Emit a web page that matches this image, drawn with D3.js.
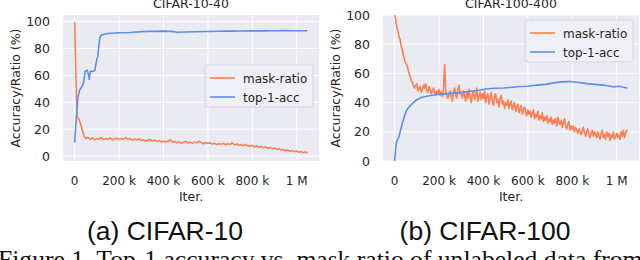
<!DOCTYPE html>
<html>
<head>
<meta charset="utf-8">
<script src="https://cdn.jsdelivr.net/npm/d3@7"></script>
<style>
  html,body{margin:0;padding:0;background:#fff;}
  svg{display:block;}
</style>
</head>
<body>
<svg id="fig" width="640" height="260"></svg>
<script>
// ---- data (iterations in k) ----
const last_iter_k=1048;

// CIFAR-10-40 (mask ratio logged every 10k)
const c10_mask_step=10;
const c10_mask_ratio=[100,30,27,22,16,13,14,12.5,13.5,12,13,12.5,13.8,12.2,13,12.4,13.5,12,12.8,13.2,
  12.2,13,12.5,14,12.3,13,11.8,12.6,12,12.8,11.5,12.2,11,11.8,12.4,11.2,11.8,10.8,11.5,10.5,
  11.2,10.4,11,12,10.5,10.8,9.8,10.6,9.5,10.2,11,9.6,10.3,9.4,10.5,9.8,11,10,9.2,10.1,
  9.3,9.8,8.9,9.5,8.6,9.2,8.8,9.4,8.5,9.1,8.6,9.8,8.4,8.9,8,8.5,7.8,8.7,7.6,7.2,
  7.9,6.8,7.4,6.5,7,6.2,6.8,5.8,6.4,5.5,6,4.9,5.4,4.4,5,3.9,4.5,3.6,4.1,3.2,
  3.8,2.9,3.4,2.5,3,2.2];
const c10_acc_iter=[0,5,10,15,22,30,40,47,55,62,66,70,74,80,90,100,104,108,113,120,135,150,200,250,300,350,400,450,460,500,550,600,650,700,750,800,850,900,950,1000,1048];
const c10_acc=[10,22,33,44,49,51,54,63,64,61,57,63,63,63,63.5,72,74,80,88,90,90.6,91.2,91.8,92,92.6,92.8,93,92.6,92.2,92.3,92.5,92.7,92.9,93,93.1,93.2,93.2,93.3,93.4,93.3,93.3];

// CIFAR-100-400 (mask ratio logged every 5k)
const c100_mask_step=5;
const c100_mask_ratio=[100,97,91,89,85,83,78,76,72,69,67,66,63,60,58,55,54,51,50,52,53,
  48,50,51,47,49,52,50,53,48,47,51,49,46,48,50,47,45,48,46,49,
  45,47,44,50,66,48,45,43,46,48,44,41,47,50,45,43,49,52,46,46,
  43,48,45,41,47,43,49,44,40,46,48,42,45,50,41,44,47,42,46,43,
  48,40,44,46,39,43,47,41,38,44,46,40,42,37,43,45,39,41,36,40,
  38,42,36,39,41,35,38,40,34,37,39,33,36,38,32,35,37,33,31,35,
  32,34,30,33,35,29,32,30,34,28,31,29,33,27,30,28,31,26,29,27,
  30,25,28,26,29,24,30,27,25,28,23,26,29,24,22,25,27,21,24,22,
  24,20,23,21,19,22,20,18,21,23,19,17,20,22,18,16,19,21,17,20,
  18,16,20,17,15,19,21,16,18,15,20,17,19,14,18,16,20,15,17,19,
  16,18,15,20,17,21,16,19,21,20];
const c100_acc_iter=[0,5,10,18,25,35,45,55,70,85,100,120,150,190,230,265,300,340,380,415,450,490,530,565,600,640,680,715,750,790,830,865,900,940,985,1010,1030,1048];
const c100_acc=[0,9,14,16,20,26,31,35,38,40,42,43.5,44.5,45.5,46,46.5,47,47.8,48.5,49.5,49.8,50,50.5,51,51.2,52,52.5,53.5,54.2,54.5,53.8,53,52.5,52,50.8,51.2,50.5,50];

const y_ticks=[0,20,40,60,80,100];
const x_ticks=[0,200,400,600,800,1000];
const x_tick_labels=["0","200 k","400 k","600 k","800 k","1 M"];
const legend_labels=["mask-ratio","top-1-acc"];
const series_colors=["#ff7f50","#5b8ef0"];

function dense_iters(values,step){
    return values.map((v,i)=>Math.min(i*step,last_iter_k));
}

const svg=d3.select("#fig");
const font="DejaVu Sans, sans-serif";

function draw_panel(opt){
    const g=svg.append("g");
    const x=d3.scaleLinear()
        .domain([-0.05*last_iter_k,1.05*last_iter_k])
        .range([opt.left,opt.left+256]);
    const y=d3.scaleLinear()
        .domain(opt.y_domain)
        .range([161,15]);

    // background
    g.append("rect")
        .attr("x",opt.left)
        .attr("y",15)
        .attr("width",256)
        .attr("height",146)
        .attr("fill","#eaeaf2");

    // grid + tick labels
    for(const t of y_ticks){
        g.append("line")
            .attr("x1",opt.left).attr("x2",opt.left+256)
            .attr("y1",y(t)).attr("y2",y(t))
            .attr("stroke","#fff").attr("stroke-width",1);
        g.append("text")
            .attr("x",opt.left-13)
            .attr("y",y(t)+4.5)
            .attr("text-anchor","end")
            .attr("font-family",font)
            .attr("font-size",12.5)
            .attr("fill","#262626")
            .text(t);
    }
    x_ticks.forEach((t,i)=>{
        g.append("line")
            .attr("x1",x(t)).attr("x2",x(t))
            .attr("y1",15).attr("y2",161)
            .attr("stroke","#fff").attr("stroke-width",1);
        g.append("text")
            .attr("x",x(t))
            .attr("y",185)
            .attr("text-anchor","middle")
            .attr("font-family",font)
            .attr("font-size",12)
            .attr("fill","#262626")
            .text(x_tick_labels[i]);
    });

    // lines
    const clip_id="clip_"+opt.left;
    svg.append("clipPath").attr("id",clip_id)
        .append("rect").attr("x",opt.left).attr("y",15).attr("width",256).attr("height",146);
    const line=d3.line().x(d=>x(d[0])).y(d=>y(d[1]));
    const mask_pts=dense_iters(opt.mask,opt.mask_step).map((k,i)=>[k,opt.mask[i]]);
    const acc_pts=opt.acc_iter.map((k,i)=>[k,opt.acc[i]]);
    g.append("path")
        .attr("d",line(mask_pts))
        .attr("clip-path","url(#"+clip_id+")")
        .attr("fill","none")
        .attr("stroke",series_colors[0])
        .attr("stroke-width",1.6)
        .attr("stroke-linejoin","round");
    g.append("path")
        .attr("d",line(acc_pts))
        .attr("clip-path","url(#"+clip_id+")")
        .attr("fill","none")
        .attr("stroke",series_colors[1])
        .attr("stroke-width",1.6)
        .attr("stroke-linejoin","round");

    // legend
    const lg=g.append("g").attr("transform","translate("+(opt.left+142)+","+opt.legend_top+")");
    lg.append("rect")
        .attr("x",0).attr("y",0)
        .attr("width",108).attr("height",42)
        .attr("rx",3)
        .attr("fill","#eff0f5")
        .attr("stroke","#d6d6dc")
        .attr("stroke-width",1);
    legend_labels.forEach((lab,i)=>{
        const ly=13+i*19;
        lg.append("line")
            .attr("x1",5).attr("x2",30)
            .attr("y1",ly).attr("y2",ly)
            .attr("stroke",series_colors[i])
            .attr("stroke-width",1.6);
        lg.append("text")
            .attr("x",38)
            .attr("y",ly+4.5)
            .attr("font-family",font)
            .attr("font-size",12)
            .attr("fill","#262626")
            .text(lab);
    });

    // titles and labels
    g.append("text")
        .attr("x",opt.left+128)
        .attr("y",8)
        .attr("text-anchor","middle")
        .attr("font-family",font)
        .attr("font-size",12.5)
        .attr("fill","#262626")
        .text(opt.title);
    g.append("text")
        .attr("x",opt.left+128)
        .attr("y",201)
        .attr("text-anchor","middle")
        .attr("font-family",font)
        .attr("font-size",12.5)
        .attr("fill","#262626")
        .text("Iter.");
    g.append("text")
        .attr("transform","translate("+(opt.left-43)+",88) rotate(-90)")
        .attr("text-anchor","middle")
        .attr("font-family",font)
        .attr("font-size",12.5)
        .attr("fill","#262626")
        .text("Accuracy/Ratio (%)");

    // sub caption
    svg.append("text")
        .attr("x",opt.caption_x)
        .attr("y",240)
        .attr("text-anchor","middle")
        .attr("font-family","Liberation Sans, Arial, sans-serif")
        .attr("font-size",26.5)
        .attr("fill","#111")
        .text(opt.caption);
}

draw_panel({left:63,y_domain:[-3.7,105],mask:c10_mask_ratio,mask_step:c10_mask_step,acc_iter:c10_acc_iter,acc:c10_acc,
    legend_top:65,title:"CIFAR-10-40",caption:"(a) CIFAR-10",caption_x:165});
draw_panel({left:383,y_domain:[0,100],mask:c100_mask_ratio,mask_step:c100_mask_step,acc_iter:c100_acc_iter,acc:c100_acc,
    legend_top:20,title:"CIFAR-100-400",caption:"(b) CIFAR-100",caption_x:485});

// figure caption, cut by the bottom edge
svg.append("text")
    .attr("x",-2)
    .attr("y",268)
    .attr("font-family","Liberation Serif, Times New Roman, serif")
    .attr("font-size",25.6)
    .attr("fill","#111")
    .text("Figure 1. Top-1 accuracy vs. mask ratio of unlabeled data from");
</script>
</body>
</html>
